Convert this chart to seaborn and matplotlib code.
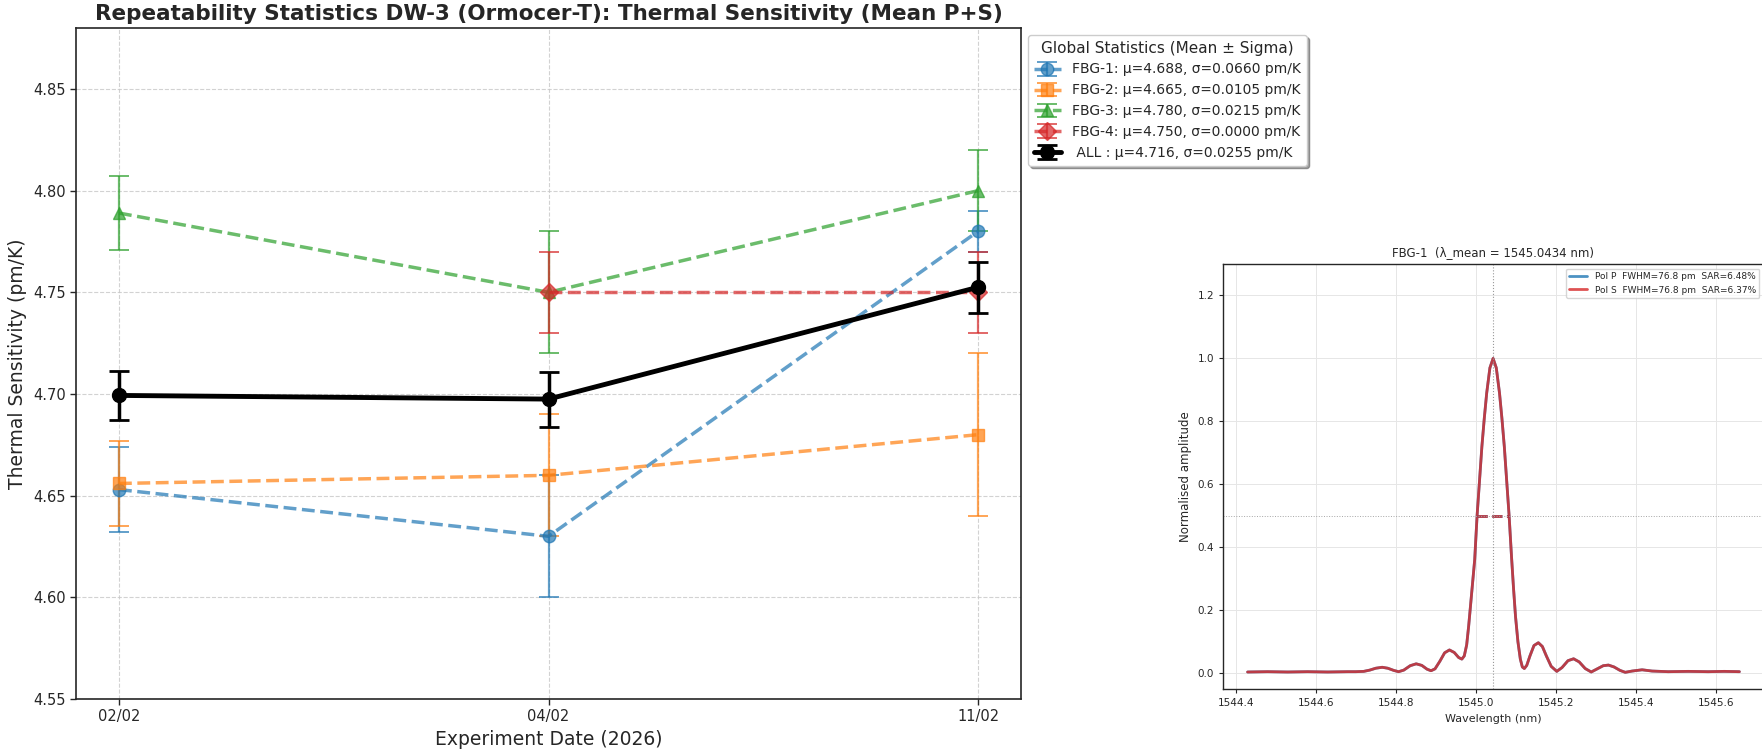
import numpy as np
import pandas as pd
import matplotlib
matplotlib.use("Agg")
import matplotlib.pyplot as plt
import seaborn as sns

# ---------------- data: repeatability (main panel) ----------------
dates = ["02/02", "04/02", "11/02"]
series_names = ["FBG-1", "FBG-2", "FBG-3", "FBG-4"]
fbg1_mean = [4.653, 4.630, 4.780]
fbg1_sigma = [0.021, 0.030, 0.010]
fbg2_mean = [4.656, 4.660, 4.680]
fbg2_sigma = [0.021, 0.030, 0.040]
fbg3_mean = [4.789, 4.750, 4.800]
fbg3_sigma = [0.018, 0.030, 0.020]
fbg4_mean = [np.nan, 4.750, 4.750]
fbg4_sigma = [np.nan, 0.020, 0.020]
all_mean = [4.6993, 4.6975, 4.7525]
all_sigma = [0.012, 0.0135, 0.0125]
legend_labels = [
    "FBG-1: μ=4.688, σ=0.0660 pm/K",
    "FBG-2: μ=4.665, σ=0.0105 pm/K",
    "FBG-3: μ=4.780, σ=0.0215 pm/K",
    "FBG-4: μ=4.750, σ=0.0000 pm/K",
    " ALL : μ=4.716, σ=0.0255 pm/K",
]
y_ticks = [4.55, 4.60, 4.65, 4.70, 4.75, 4.80, 4.85]

# ---------------- data: FBG-1 spectrum (right panel) ----------------
wavelength_nm = [
    1544.430, 1544.480, 1544.530, 1544.580, 1544.630, 1544.680, 1544.700,
    1544.720, 1544.735, 1544.750, 1544.766, 1544.780, 1544.795, 1544.807,
    1544.820, 1544.836, 1544.851, 1544.865, 1544.878, 1544.888, 1544.898,
    1544.910, 1544.922, 1544.934, 1544.946, 1544.957, 1544.965, 1544.971,
    1544.977, 1544.982, 1544.987, 1544.992, 1544.997, 1545.003, 1545.009,
    1545.015, 1545.021, 1545.027, 1545.035, 1545.043, 1545.051, 1545.059,
    1545.065, 1545.071, 1545.077, 1545.083, 1545.089, 1545.094, 1545.099,
    1545.105, 1545.111, 1545.116, 1545.121, 1545.127, 1545.135, 1545.145,
    1545.156, 1545.166, 1545.176, 1545.188, 1545.202, 1545.215, 1545.230,
    1545.244, 1545.258, 1545.273, 1545.288, 1545.303, 1545.318, 1545.331,
    1545.345, 1545.360, 1545.373, 1545.390, 1545.415, 1545.440, 1545.480,
    1545.530, 1545.580, 1545.620, 1545.658,
]
pol_p_amp = [
    0.004, 0.005, 0.004, 0.005, 0.004, 0.005, 0.005,
    0.006, 0.010, 0.016, 0.019, 0.016, 0.009, 0.005,
    0.010, 0.024, 0.030, 0.025, 0.013, 0.008, 0.014,
    0.038, 0.065, 0.074, 0.066, 0.050, 0.045, 0.055,
    0.090, 0.150, 0.220, 0.290, 0.360, 0.500, 0.610,
    0.720, 0.810, 0.890, 0.970, 1.000, 0.970, 0.890,
    0.810, 0.720, 0.610, 0.500, 0.370, 0.270, 0.180,
    0.100, 0.045, 0.020, 0.015, 0.025, 0.055, 0.088,
    0.097, 0.085, 0.055, 0.022, 0.006, 0.018, 0.040,
    0.046, 0.036, 0.015, 0.004, 0.014, 0.024, 0.026,
    0.020, 0.009, 0.003, 0.007, 0.011, 0.007, 0.005,
    0.006, 0.005, 0.006, 0.005,
]
pol_s_amp = list(pol_p_amp)
fwhm_bounds_nm = [1545.003, 1545.083]
lambda_mean_nm = 1545.0434
spec_labels = ["Pol P  FWHM=76.8 pm  SAR=6.48%", "Pol S  FWHM=76.8 pm  SAR=6.37%"]
spec_xticks = [1544.4, 1544.6, 1544.8, 1545.0, 1545.2, 1545.4, 1545.6]
spec_yticks = [0.0, 0.2, 0.4, 0.6, 0.8, 1.0, 1.2]

# ---------------- style ----------------
sns.set_theme(style="ticks")
plt.rcParams["font.family"] = ["DejaVu Sans"]
plt.rcParams.update({
    "axes.edgecolor": "0.15",
    "axes.linewidth": 1.2,
    "xtick.major.size": 4,
    "ytick.major.size": 4,
    "xtick.major.width": 1.0,
    "ytick.major.width": 1.0,
    "xtick.color": "0.15",
    "ytick.color": "0.15",
})

fig = plt.figure(figsize=(17.62, 7.54), dpi=100)

# ---------------- main panel ----------------
ax = fig.add_axes([76 / 1762, 55 / 754, 945 / 1762, 671 / 754])
x = np.arange(len(dates))
palette = sns.color_palette("tab10")
markers = ["o", "s", "^", "D"]
means = [fbg1_mean, fbg2_mean, fbg3_mean, fbg4_mean]
sigmas = [fbg1_sigma, fbg2_sigma, fbg3_sigma, fbg4_sigma]
for i in range(4):
    ax.errorbar(x, means[i], yerr=sigmas[i], fmt=markers[i] + "--",
                color=palette[i], lw=2.5, ms=9, capsize=7, elinewidth=1.6,
                capthick=1.4, alpha=0.7, label=legend_labels[i])
ax.errorbar(x, all_mean, yerr=all_sigma, fmt="o-", color="black", lw=3.5,
            ms=10, capsize=7, elinewidth=2.5, capthick=2.0,
            label=legend_labels[4], zorder=5)

ax.set_xticks(x)
ax.set_xticklabels(dates)
ax.set_xlim(-0.1, 2.1)
ax.set_ylim(4.55, 4.88)
ax.set_yticks(y_ticks)
ax.set_yticklabels([f"{v:.2f}" for v in y_ticks])
ax.tick_params(labelsize=10.5)
ax.grid(True, ls="--", lw=0.8, color="0.78", alpha=0.8)
ax.set_xlabel("Experiment Date (2026)", fontsize=13.5)
ax.set_ylabel("Thermal Sensitivity (pm/K)", fontsize=13.5)
ax.set_title("Repeatability Statistics DW-3 (Ormocer-T): Thermal Sensitivity (Mean P+S)",
             fontsize=15.5, fontweight="bold")
leg = ax.legend(loc="upper left", bbox_to_anchor=(1.0, 1.0), fontsize=10,
                title="Global Statistics (Mean ± Sigma)", title_fontsize=11,
                frameon=True, shadow=True, fancybox=True, edgecolor="0.8")

# ---------------- spectrum panel ----------------
ax2 = fig.add_axes([1223 / 1762, 65 / 754, 541 / 1762, 425 / 754])
sns.lineplot(x=wavelength_nm, y=pol_p_amp, color="tab:blue", lw=2.0, alpha=0.8,
             label=spec_labels[0], ax=ax2)
sns.lineplot(x=wavelength_nm, y=pol_s_amp, color="tab:red", lw=2.0, alpha=0.8,
             label=spec_labels[1], ax=ax2)
ax2.hlines(0.5, fwhm_bounds_nm[0], fwhm_bounds_nm[1], colors="tab:blue",
           linestyles="--", lw=2, alpha=0.8)
ax2.hlines(0.5, fwhm_bounds_nm[0], fwhm_bounds_nm[1], colors="tab:red",
           linestyles="--", lw=2, alpha=0.8)
ax2.axhline(0.5, color="0.65", ls=":", lw=0.7)
ax2.axvline(lambda_mean_nm, color="0.6", ls=":", lw=0.8)
ax2.set_ylim(-0.05, 1.3)
ax2.set_xticks(spec_xticks)
ax2.set_xticklabels([f"{v:.1f}" for v in spec_xticks])
ax2.set_yticks(spec_yticks)
ax2.set_yticklabels([f"{v:.1f}" for v in spec_yticks])
ax2.tick_params(labelsize=7.5, length=3, width=0.8)
for sp in ax2.spines.values():
    sp.set_linewidth(1.0)
ax2.grid(True, color="0.9", lw=0.7)
ax2.set_xlabel("Wavelength (nm)", fontsize=8)
ax2.set_ylabel("Normalised amplitude", fontsize=8.5)
ax2.set_title(f"FBG-1  (λ_mean = {lambda_mean_nm:.4f} nm)", fontsize=8.5)
ax2.legend(loc="upper right", fontsize=6.5)

fig.savefig("out.png", dpi=100)
